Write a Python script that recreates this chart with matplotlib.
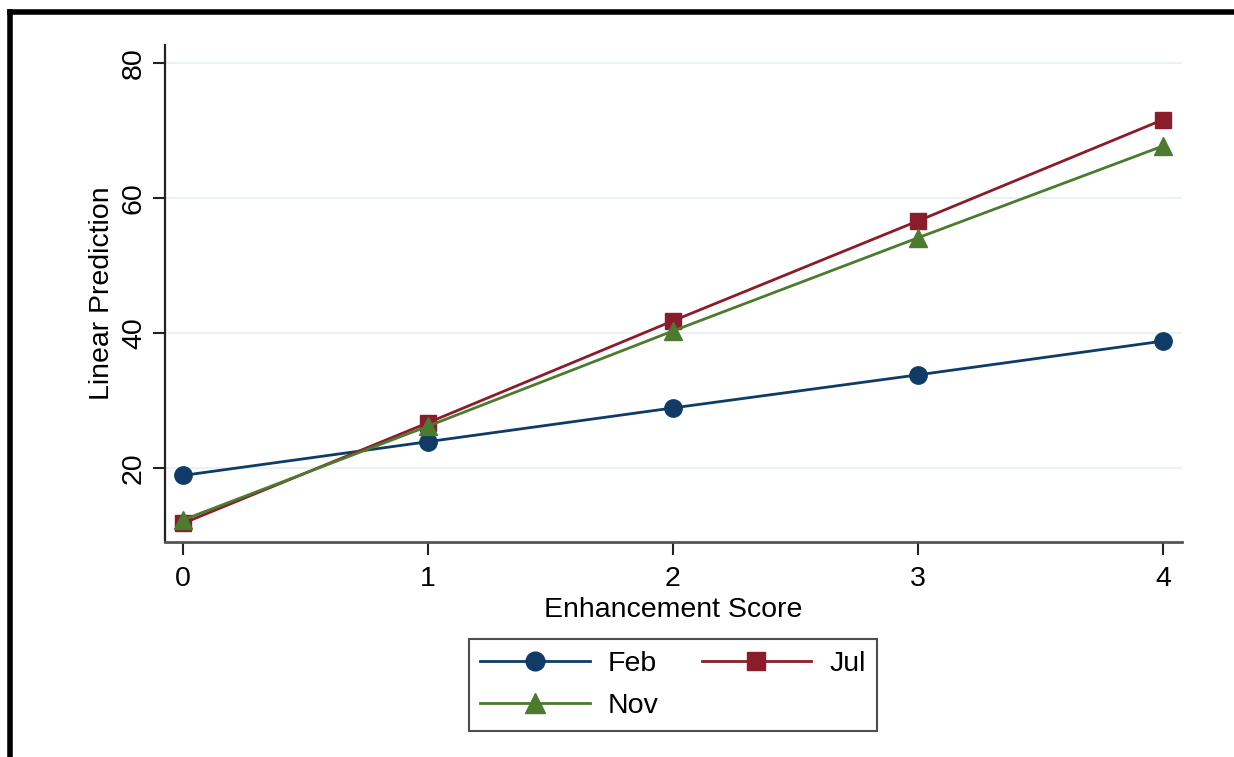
import matplotlib
matplotlib.use("Agg")
import matplotlib.pyplot as plt
from matplotlib.lines import Line2D

plt.rcParams['font.family'] = ['Liberation Sans', 'DejaVu Sans']

scores = [0, 1, 2, 3, 4]
feb = [18.9, 23.9, 28.9, 33.8, 38.8]
jul = [11.8, 26.7, 41.8, 56.6, 71.6]
nov = [12.3, 26.2, 40.3, 54.1, 67.7]
yticks = [20, 40, 60, 80]

navy = '#0f3b66'
maroon = '#8a1c2c'
green = '#4c7a2e'

fig = plt.figure(figsize=(12.34, 7.57), dpi=100)
ax = fig.add_axes([165 / 1234, 1 - 542 / 757, (1182 - 165) / 1234, (542 - 45) / 757])

for y in yticks:
    ax.axhline(y, color='#eaf2f3', lw=1.5, zorder=0)

h_feb, = ax.plot(scores, feb, color=navy, lw=2, marker='o', ms=12.5, label='Feb')
h_jul, = ax.plot(scores, jul, color=maroon, lw=2, marker='s', ms=11.5, label='Jul')
h_nov, = ax.plot(scores, nov, color=green, lw=2, marker='^', ms=13, label='Nov')

ax.set_xlim(-0.073, 4.078)
ax.set_ylim(9.04, 82.67)
ax.set_xticks(scores)
ax.set_yticks(yticks)
ax.set_yticklabels([str(v) for v in yticks], rotation=90, va='center')
ax.tick_params(axis='both', labelsize=20.5, length=9, width=1.5, color='#222222')
ax.tick_params(axis='x', pad=8)
ax.tick_params(axis='y', pad=4)

for side in ['top', 'right']:
    ax.spines[side].set_visible(False)
ax.spines['left'].set_linewidth(1.6)
ax.spines['left'].set_color('#222222')
ax.spines['bottom'].set_linewidth(2)
ax.spines['bottom'].set_color('#555555')

ax.set_xlabel('Enhancement Score', fontsize=20.5, labelpad=4)
ax.set_ylabel('Linear Prediction', fontsize=20.5, labelpad=4)

# handles ordered so rows read Feb, Jul / Nov
leg = fig.legend([h_feb, h_nov, h_jul], ['Feb', 'Nov', 'Jul'],
                 loc='center', bbox_to_anchor=(673 / 1234, 1 - 685 / 757), ncol=2,
                 fontsize=20.5, frameon=True, fancybox=False, edgecolor='#222222',
                 handlelength=3.85, handletextpad=0.63, columnspacing=1.5,
                 borderpad=0.42, labelspacing=0.55, markerscale=1.08)
leg.get_frame().set_linewidth(1.5)

# outer frame on top and left
fig.add_artist(Line2D([10.5 / 1234, 10.5 / 1234], [0, 1 - 12 / 757], transform=fig.transFigure,
                      color='black', lw=4, solid_capstyle='projecting'))
fig.add_artist(Line2D([10.5 / 1234, 1], [1 - 12 / 757, 1 - 12 / 757], transform=fig.transFigure,
                      color='black', lw=4, solid_capstyle='projecting'))

fig.savefig('out.png', dpi=100)
